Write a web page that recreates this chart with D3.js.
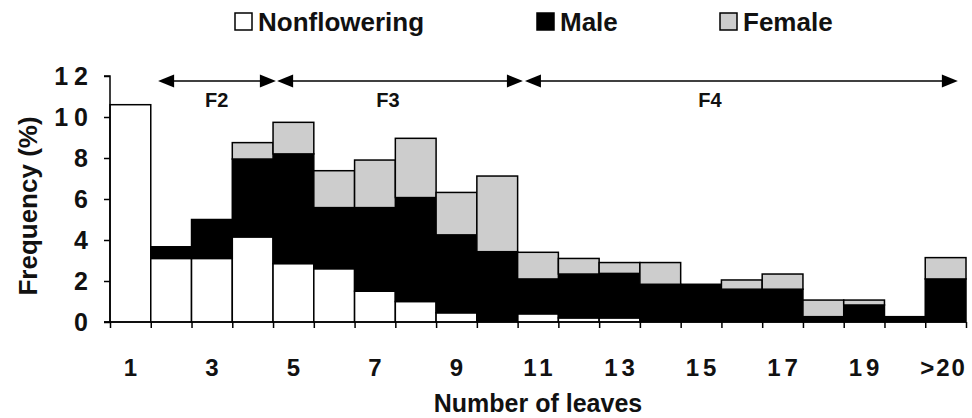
<!DOCTYPE html>
<html><head><meta charset="utf-8">
<script src="https://cdn.jsdelivr.net/npm/d3@7"></script>
<style>
html,body{margin:0;padding:0;background:#fff;}
svg text{font-family:"Liberation Sans",Arial,Helvetica,sans-serif;font-weight:bold;fill:#111;}
</style></head>
<body>
<svg id="chart" width="972" height="418"></svg>
<script>
const categories = ["1","2","3","4","5","6","7","8","9","10","11","12","13","14","15","16","17","18","19","20",">20"];
const nonflowering = [10.6,3.1,3.1,4.15,2.85,2.6,1.5,1.0,0.45,0,0.4,0.2,0.2,0,0,0,0,0,0,0,0];
const male =         [0,0.57,1.9,3.8,5.35,2.98,4.08,5.07,3.8,3.43,1.7,2.14,2.17,1.84,1.84,1.6,1.6,0.26,0.83,0.26,2.1];
const female =       [0,0,0,0.8,1.54,1.8,2.32,2.89,2.07,3.69,1.3,0.76,0.53,1.06,0,0.45,0.74,0.81,0.24,0,1.04];
const xTickLabels = ["1","3","5","7","9","11","13","15","17","19",">20"];
const yTicks = [0,2,4,6,8,10,12];
const seriesNames = ["Nonflowering","Male","Female"];
const seriesColors = ["#ffffff","#000000","#cdcdcd"];
// growth-stage spans along leaf-number axis (bin units)
const stages = [
  {label:"F2", from:1.18, to:4.07, at:2.62},
  {label:"F3", from:4.1, to:10.13, at:6.82},
  {label:"F4", from:10.18, to:20.8, at:14.72}
];

const svg = d3.select("#chart");
const L=110, R=966, T=76, B=322;
const x = d3.scaleBand().domain(categories).range([L,R]).paddingInner(0).paddingOuter(0);
const xu = d3.scaleLinear().domain([0,categories.length]).range([L,R]);
const y = d3.scaleLinear().domain([0,12]).range([B,T]);

const rows = categories.map((c,i)=>({cat:c, Nonflowering:nonflowering[i], Male:male[i], Female:female[i]}));
const stacked = d3.stack().keys(seriesNames)(rows);

stacked.forEach((s,si)=>{
  svg.append("g").selectAll("rect").data(s.filter(d=>d[1]-d[0]>0)).join("rect")
    .attr("x",d=>x(d.data.cat))
    .attr("width",x.bandwidth())
    .attr("y",d=>y(d[1]))
    .attr("height",d=>y(d[0])-y(d[1]))
    .attr("fill",seriesColors[si])
    .attr("stroke","#000")
    .attr("stroke-width",1.5);
});

// y axis
const yAxis = d3.axisLeft(y).tickValues(yTicks).tickSize(6).tickPadding(10).tickFormat(d=>String(d));
const gy = svg.append("g").attr("transform",`translate(${L},0)`).call(yAxis);
gy.select(".domain").attr("stroke","#000").attr("stroke-width",1.5).attr("d",`M-6,${T}H0V${B}H-6`);
gy.selectAll(".tick line").attr("stroke","#000").attr("stroke-width",1.5);
gy.selectAll(".tick text").attr("font-size",25).attr("dy","0.34em").attr("fill","#111")
  .style("letter-spacing","6px")
  .style("font-family","'Liberation Sans',Arial,sans-serif").style("font-weight","bold");

// x axis
const xAxis = d3.axisBottom(xu).tickValues(d3.range(0,categories.length+1)).tickSize(6).tickFormat("");
const gx = svg.append("g").attr("transform",`translate(0,${B})`).call(xAxis);
gx.select(".domain").attr("stroke","#000").attr("stroke-width",1.5).attr("d",`M${L-6},0H${R}`);
gx.selectAll(".tick line").attr("stroke","#000").attr("stroke-width",1.5);

svg.append("g").selectAll("text").data(xTickLabels).join("text")
  .attr("x",d=>x(d)+x.bandwidth()/2)
  .attr("y",376)
  .attr("text-anchor","middle")
  .attr("font-size",24)
  .style("letter-spacing",d=>d.length===3?"2px":(d.length>1?"4px":"0px"))
  .attr("dx",d=>d.length===3?-2:(d.length>1?2:0))
  .text(d=>d);

// axis titles
svg.append("text").attr("x",538).attr("y",412).attr("text-anchor","middle").attr("font-size",25).text("Number of leaves");
svg.append("text").attr("transform","translate(37,206) rotate(-90)").attr("text-anchor","middle").attr("font-size",26).text("Frequency (%)");

// stage arrows
const ay = 81, ah = 16, aw = 6.5;
const gA = svg.append("g");
stages.forEach(s=>{
  const x0 = xu(s.from), x1 = xu(s.to);
  gA.append("line").attr("x1",x0+4).attr("x2",x1-4).attr("y1",ay).attr("y2",ay).attr("stroke","#000").attr("stroke-width",1.5);
  gA.append("path").attr("d",`M${x0},${ay}L${x0+ah},${ay-aw}L${x0+ah},${ay+aw}Z`).attr("fill","#000");
  gA.append("path").attr("d",`M${x1},${ay}L${x1-ah},${ay-aw}L${x1-ah},${ay+aw}Z`).attr("fill","#000");
  gA.append("text").attr("x",xu(s.at)).attr("y",107).attr("text-anchor","middle").attr("font-size",20).text(s.label);
});

// legend
const legendPos = [235, 537, 720];
const gl = svg.append("g");
seriesNames.forEach((n,i)=>{
  gl.append("rect").attr("x",legendPos[i]).attr("y",13).attr("width",17).attr("height",17)
    .attr("fill",seriesColors[i]).attr("stroke","#000").attr("stroke-width",1.5);
  gl.append("text").attr("x",legendPos[i]+23).attr("y",31).attr("font-size",26).text(n);
});
</script>
</body></html>
